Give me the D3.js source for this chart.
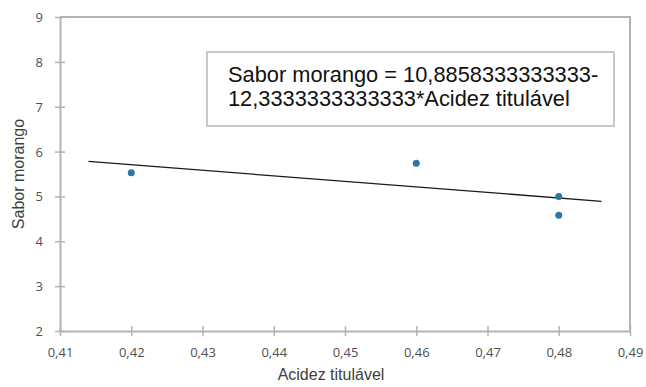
<!DOCTYPE html>
<html><head><meta charset="utf-8">
<script src="https://cdn.jsdelivr.net/npm/d3@7"></script>
<style>body{margin:0;background:#fff}svg{display:block}</style>
</head><body><svg id="c" width="646" height="387"></svg>
<script>
const xValues = [0.42, 0.46, 0.48, 0.48];
const yValues = [5.53, 5.74, 5.0, 4.58];
const xTicks = [0.41,0.42,0.43,0.44,0.45,0.46,0.47,0.48,0.49];
const yTicks = [2,3,4,5,6,7,8,9];
const intercept = 10.8858333333333;
const slope = -12.3333333333333;
const lineRange = [0.414, 0.486];
const eqLines = ["Sabor morango = 10,8858333333333-", "12,3333333333333*Acidez titulável"];

const svg = d3.select("#c");
const L=60,R=630,T=17,B=331;
const x = d3.scaleLinear().domain([0.41,0.49]).range([L,R]);
const y = d3.scaleLinear().domain([2,9]).range([B,T]);
const fmt = d => d3.format(".2f")(d).replace(".", ",");
const axisCol = "#b3b3b3";

svg.append("path").attr("d",`M${L},${T}H${R}V${B}`).attr("fill","none").attr("stroke",axisCol).attr("stroke-width",2);

const gx = svg.append("g").attr("transform",`translate(0,${B})`)
  .call(d3.axisBottom(x).tickValues(xTicks).tickFormat(fmt).tickSizeInner(5).tickSizeOuter(0).tickPadding(12));
const gy = svg.append("g").attr("transform",`translate(${L},0)`)
  .call(d3.axisLeft(y).tickValues(yTicks).tickFormat(d3.format("d")).tickSizeInner(5).tickSizeOuter(0).tickPadding(12));
[gx,gy].forEach(g=>{
  g.select(".domain").attr("stroke",axisCol).attr("stroke-width",2);
  g.selectAll(".tick line").attr("stroke",axisCol).attr("stroke-width",1.5);
  g.selectAll("text").attr("fill","#505050").attr("font-family","'Open Sans', 'DejaVu Sans', sans-serif").attr("font-size",13);
});
gx.selectAll(".tick line").attr("y1",-5);
gy.selectAll(".tick line").attr("x1",5);
gy.selectAll("text").attr("dy","0.35em");

svg.append("line")
  .attr("x1",x(lineRange[0])).attr("y1",y(intercept+slope*lineRange[0]))
  .attr("x2",x(lineRange[1])).attr("y2",y(intercept+slope*lineRange[1]))
  .attr("stroke","#1a1a1a").attr("stroke-width",1.3);

svg.selectAll("circle.pt").data(xValues.map((v,i)=>[v,yValues[i]])).enter()
  .append("circle").attr("class","pt").attr("cx",d=>x(d[0])).attr("cy",d=>y(d[1])).attr("r",3.5).attr("fill","#2b77a6");

svg.append("text").attr("x",331).attr("y",380).attr("text-anchor","middle")
  .attr("font-family","'Liberation Sans', Arial, sans-serif").attr("font-size",16).attr("fill","#404040").text("Acidez titulável");
svg.append("text").attr("transform",`translate(24,${(T+B)/2}) rotate(-90)`).attr("text-anchor","middle")
  .attr("font-family","'Liberation Sans', Arial, sans-serif").attr("font-size",16).attr("fill","#404040").text("Sabor morango");

svg.append("rect").attr("x",207).attr("y",52).attr("width",407).attr("height",74)
  .attr("fill","#fff").attr("stroke","#c8c8c8").attr("stroke-width",2);
svg.selectAll("text.eq").data(eqLines).enter().append("text").attr("class","eq")
  .attr("x",228).attr("y",(d,i)=>82+i*23.5)
  .attr("font-family","'Liberation Sans', Arial, sans-serif").attr("font-size",21.8).attr("fill","#111").text(d=>d);
</script></body></html>
